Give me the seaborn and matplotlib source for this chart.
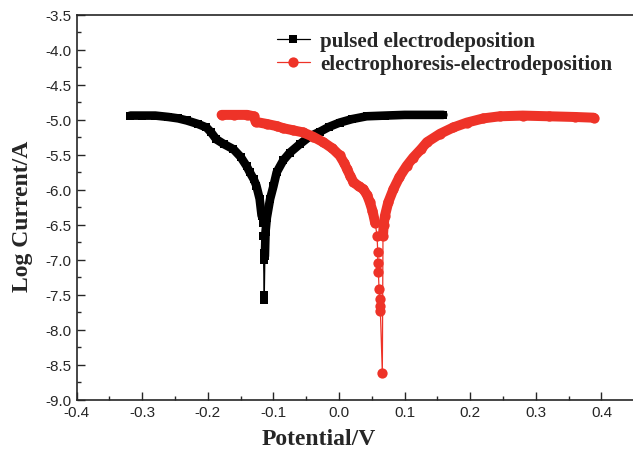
import numpy as np
import pandas as pd
import seaborn as sns
import matplotlib
matplotlib.use("Agg")
import matplotlib.pyplot as plt
from matplotlib.ticker import MultipleLocator

# pulsed electrodeposition (scan order: cathodic branch, dip, anodic branch)
pulsed_cat_x = [-0.318, -0.30, -0.28, -0.26, -0.245, -0.232, -0.215, -0.202, -0.195, -0.187,
                -0.175, -0.161, -0.150, -0.141, -0.136, -0.130, -0.126, -0.121, -0.118]
pulsed_cat_y = [-4.94, -4.94, -4.94, -4.96, -4.98, -5.01, -5.06, -5.11, -5.18, -5.28,
                -5.35, -5.42, -5.53, -5.66, -5.75, -5.85, -5.94, -6.13, -6.37]
pulsed_dip_x = [-0.116, -0.116, -0.115, -0.115, -0.114, -0.114]
pulsed_dip_y = [-6.47, -6.66, -6.90, -7.00, -7.50, -7.58]
pulsed_an_x = [-0.113, -0.112, -0.110, -0.105, -0.100, -0.095, -0.085, -0.075, -0.060, -0.045,
               -0.029, -0.015, 0.001, 0.020, 0.042, 0.070, 0.100, 0.130, 0.159]
pulsed_an_y = [-6.95, -6.60, -6.40, -6.13, -5.95, -5.75, -5.58, -5.47, -5.35, -5.24,
               -5.17, -5.10, -5.04, -4.99, -4.95, -4.94, -4.93, -4.93, -4.93]

# electrophoresis-electrodeposition
ephor_cat_x = [-0.179, -0.16, -0.14, -0.13, -0.127, -0.11, -0.095, -0.085, -0.07, -0.055,
               -0.04, -0.024, -0.01, 0.001, 0.008, 0.012, 0.017, 0.022, 0.030, 0.037,
               0.043, 0.047, 0.051, 0.055]
ephor_cat_y = [-4.93, -4.93, -4.93, -4.95, -5.03, -5.06, -5.09, -5.12, -5.15, -5.18,
               -5.24, -5.32, -5.41, -5.51, -5.62, -5.70, -5.80, -5.89, -5.95, -5.99,
               -6.08, -6.18, -6.30, -6.47]
ephor_dip_x = [0.058, 0.059, 0.059, 0.060, 0.061, 0.062, 0.062, 0.063, 0.066]
ephor_dip_y = [-6.66, -6.89, -7.04, -7.18, -7.42, -7.56, -7.66, -7.73, -8.62]
ephor_an_x = [0.067, 0.068, 0.070, 0.075, 0.083, 0.092, 0.103, 0.113, 0.125, 0.134,
              0.154, 0.174, 0.195, 0.220, 0.245, 0.280, 0.320, 0.360, 0.388]
ephor_an_y = [-6.66, -6.50, -6.37, -6.18, -5.99, -5.82, -5.66, -5.54, -5.42, -5.32,
              -5.20, -5.11, -5.04, -4.98, -4.95, -4.94, -4.95, -4.96, -4.97]

sns.set_style("ticks")
plt.rcParams["font.family"] = ["Liberation Sans", "DejaVu Sans"]
plt.rcParams["xtick.direction"] = "in"
plt.rcParams["ytick.direction"] = "in"

fig = plt.figure(figsize=(6.33, 4.52), dpi=100)
ax = fig.add_axes([0.121, 0.1135, 0.881, 0.8515])

black = "#000000"
red = "#ee3328"

series = [
    ("pulsed electrodeposition", pulsed_cat_x, pulsed_cat_y, pulsed_dip_x, pulsed_dip_y,
     pulsed_an_x, pulsed_an_y, black, "s", 6.4, 6.2),
    ("electrophoresis-electrodeposition", ephor_cat_x, ephor_cat_y, ephor_dip_x, ephor_dip_y,
     ephor_an_x, ephor_an_y, red, "o", 7.4, 7.2),
]

for name, cx, cy, dx, dy, axx, ayy, col, mk, ms, bw in series:
    # dense branches appear as a solid band of overlapping markers
    for bx, by in [(cx, cy), (axx, ayy)]:
        sns.lineplot(x=bx, y=by, sort=False, estimator=None, ax=ax, color=col,
                     linewidth=bw, solid_capstyle="round", solid_joinstyle="round",
                     legend=False)
    df = pd.DataFrame({"x": cx + dx + axx, "y": cy + dy + ayy})
    sns.lineplot(data=df, x="x", y="y", sort=False, estimator=None, ax=ax, color=col,
                 linewidth=0.9, marker=mk, markersize=ms, markeredgewidth=0,
                 label=name)

ax.set_xlim(-0.4, 0.45)
ax.set_ylim(-9.0, -3.5)
ax.xaxis.set_major_locator(MultipleLocator(0.1))
ax.xaxis.set_minor_locator(MultipleLocator(0.05))
ax.yaxis.set_major_locator(MultipleLocator(0.5))
ax.yaxis.set_minor_locator(MultipleLocator(0.25))
ax.tick_params(which="major", length=6, width=1.0, labelsize=11, pad=4)
ax.tick_params(which="minor", length=3, width=1.0)
ax.xaxis.set_major_formatter(matplotlib.ticker.FormatStrFormatter("%.1f"))
ax.yaxis.set_major_formatter(matplotlib.ticker.FormatStrFormatter("%.1f"))
for s in ["left", "bottom", "top"]:
    ax.spines[s].set_linewidth(1.2)
ax.spines["right"].set_visible(False)

ax.set_xlabel("Potential/V", fontsize=17, fontweight="bold", family="Liberation Serif")
ax.set_ylabel("Log Current/A", fontsize=17, fontweight="bold", family="Liberation Serif")
ax.xaxis.set_label_coords(0.4345, -0.074)
ax.yaxis.set_label_coords(-0.078, 0.48)

leg = ax.legend(loc="upper left", bbox_to_anchor=(0.34, 0.985), frameon=False,
                prop={"family": "Liberation Serif", "weight": "bold", "size": 15},
                handlelength=1.6, handletextpad=0.5, labelspacing=0.15, borderpad=0)

fig.savefig("out.png", dpi=100)
